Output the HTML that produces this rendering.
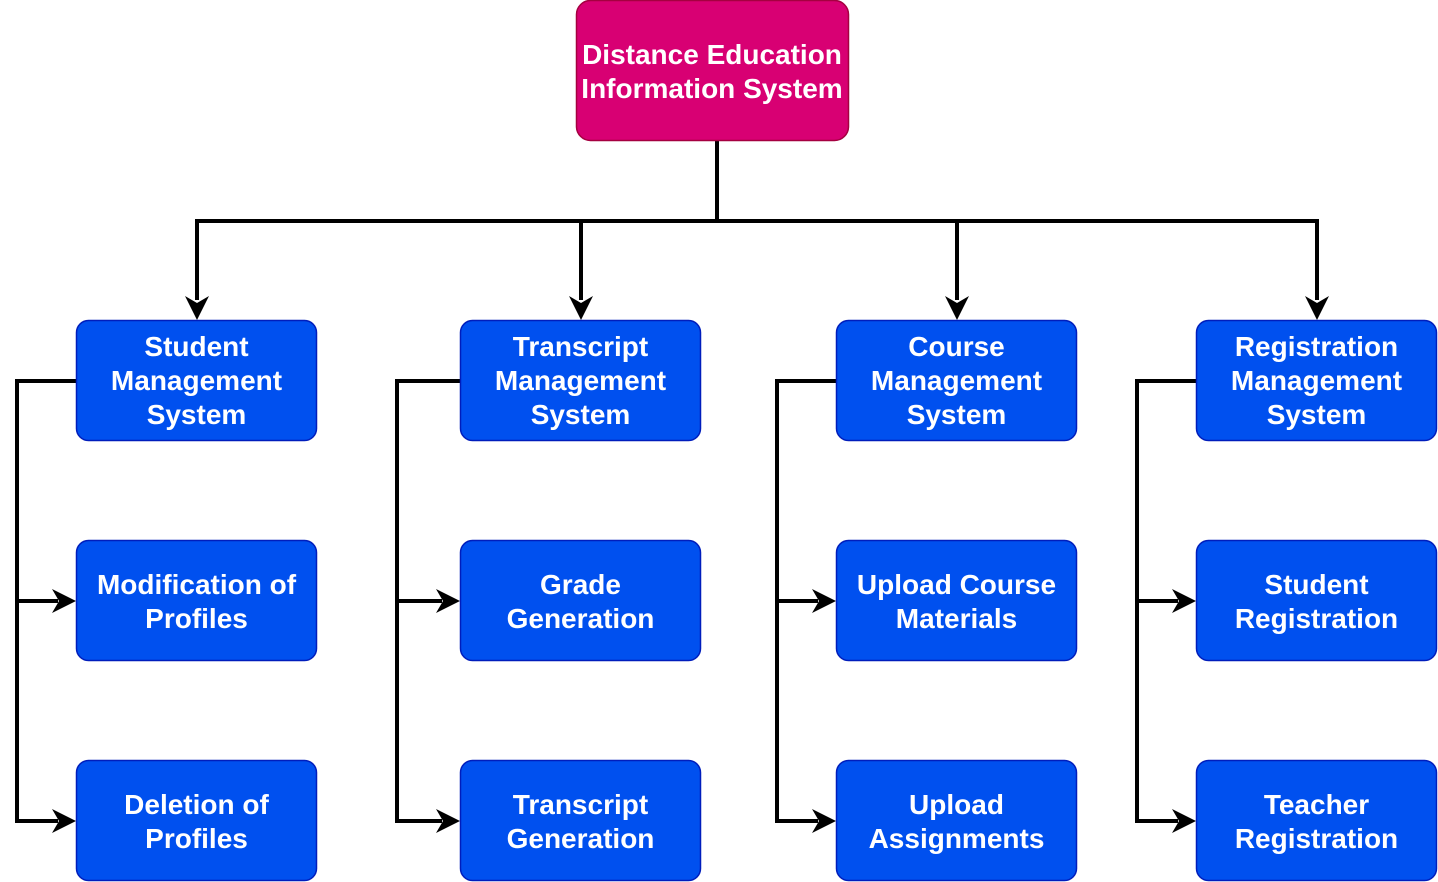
<!DOCTYPE html>
<html>
<head>
<meta charset="utf-8">
<style>
  html, body { margin: 0; padding: 0; background: #ffffff; }
  body { width: 1438px; height: 882px; overflow: hidden; }
  svg { display: block; }
  text { font-family: "Liberation Sans", Arial, Helvetica, sans-serif; font-weight: bold; font-size: 28px; fill: #ffffff; text-anchor: middle; }
</style>
</head>
<body>
<svg width="1438" height="882" viewBox="0 0 1438 882" xmlns="http://www.w3.org/2000/svg">
  <!-- connectors -->
  <g fill="none" stroke="#000000" stroke-width="4" stroke-linejoin="miter" stroke-linecap="butt">
    <path d="M717 141 V221"/>
    <path d="M195 221 H1319"/>
    <path d="M197 219 V300"/>
    <path d="M581 219 V300"/>
    <path d="M957 219 V300"/>
    <path d="M1317 219 V300"/>

    <path d="M77 381 H17 V821 H58"/>
    <path d="M17 601 H58"/>

    <path d="M461 381 H397 V821 H442"/>
    <path d="M397 601 H442"/>

    <path d="M837 381 H777 V821 H818"/>
    <path d="M777 601 H818"/>

    <path d="M1197 381 H1137 V821 H1178"/>
    <path d="M1137 601 H1178"/>
  </g>
  <!-- arrowheads -->
  <g fill="#000000" stroke="none">
    <polygon points="197,320 185,296 197,303 209,296"/>
    <polygon points="581,320 569,296 581,303 593,296"/>
    <polygon points="957,320 945,296 957,303 969,296"/>
    <polygon points="1317,320 1305,296 1317,303 1329,296"/>

    <polygon points="76,601 52,589 59,601 52,613"/>
    <polygon points="76,821 52,809 59,821 52,833"/>
    <polygon points="460,601 436,589 443,601 436,613"/>
    <polygon points="460,821 436,809 443,821 436,833"/>
    <polygon points="836,601 812,589 819,601 812,613"/>
    <polygon points="836,821 812,809 819,821 812,833"/>
    <polygon points="1196,601 1172,589 1179,601 1172,613"/>
    <polygon points="1196,821 1172,809 1179,821 1172,833"/>
  </g>

  <!-- top node -->
  <rect x="576.5" y="0.5" width="272" height="140" rx="14" ry="14" fill="#d80073" stroke="#a50040" stroke-width="1.5"/>
  <text x="712" y="64">Distance Education</text>
  <text x="712" y="98">Information System</text>

  <!-- blue boxes -->
  <g fill="#0050ef" stroke="#001dbc" stroke-width="1.5">
    <rect x="76.5" y="320.5" width="240" height="120" rx="12" ry="12"/>
    <rect x="76.5" y="540.5" width="240" height="120" rx="12" ry="12"/>
    <rect x="76.5" y="760.5" width="240" height="120" rx="12" ry="12"/>

    <rect x="460.5" y="320.5" width="240" height="120" rx="12" ry="12"/>
    <rect x="460.5" y="540.5" width="240" height="120" rx="12" ry="12"/>
    <rect x="460.5" y="760.5" width="240" height="120" rx="12" ry="12"/>

    <rect x="836.5" y="320.5" width="240" height="120" rx="12" ry="12"/>
    <rect x="836.5" y="540.5" width="240" height="120" rx="12" ry="12"/>
    <rect x="836.5" y="760.5" width="240" height="120" rx="12" ry="12"/>

    <rect x="1196.5" y="320.5" width="240" height="120" rx="12" ry="12"/>
    <rect x="1196.5" y="540.5" width="240" height="120" rx="12" ry="12"/>
    <rect x="1196.5" y="760.5" width="240" height="120" rx="12" ry="12"/>
  </g>

  <!-- column 1 -->
  <text x="196.5" y="356">Student</text>
  <text x="196.5" y="390">Management</text>
  <text x="196.5" y="424">System</text>
  <text x="196.5" y="594">Modification of</text>
  <text x="196.5" y="628">Profiles</text>
  <text x="196.5" y="814">Deletion of</text>
  <text x="196.5" y="848">Profiles</text>

  <!-- column 2 -->
  <text x="580.5" y="356">Transcript</text>
  <text x="580.5" y="390">Management</text>
  <text x="580.5" y="424">System</text>
  <text x="580.5" y="594">Grade</text>
  <text x="580.5" y="628">Generation</text>
  <text x="580.5" y="814">Transcript</text>
  <text x="580.5" y="848">Generation</text>

  <!-- column 3 -->
  <text x="956.5" y="356">Course</text>
  <text x="956.5" y="390">Management</text>
  <text x="956.5" y="424">System</text>
  <text x="956.5" y="594">Upload Course</text>
  <text x="956.5" y="628">Materials</text>
  <text x="956.5" y="814">Upload</text>
  <text x="956.5" y="848">Assignments</text>

  <!-- column 4 -->
  <text x="1316.5" y="356">Registration</text>
  <text x="1316.5" y="390">Management</text>
  <text x="1316.5" y="424">System</text>
  <text x="1316.5" y="594">Student</text>
  <text x="1316.5" y="628">Registration</text>
  <text x="1316.5" y="814">Teacher</text>
  <text x="1316.5" y="848">Registration</text>
</svg>
</body>
</html>
